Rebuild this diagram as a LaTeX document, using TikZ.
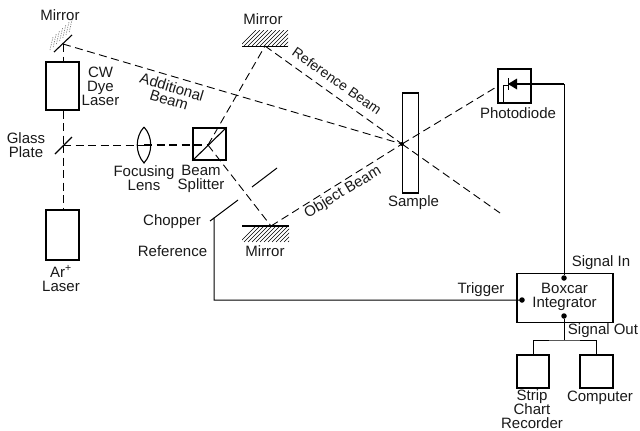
\documentclass[tikz,border=0pt]{standalone}
\usepackage{fontspec}
\setmainfont{Liberation Sans}
\begin{document}
\begin{tikzpicture}[x=1pt,y=-1pt,line cap=butt,
  lbl/.style={inner sep=0pt,align=center,font=\fontsize{15}{14}\selectfont,text=black!90},
  rlbl/.style={lbl,font=\fontsize{14}{14}\selectfont},
  laserbox/.style={draw,line width=1.1pt,inner sep=0pt},
  beam/.style={line width=0.9pt,dash pattern=on 8pt off 4.5pt},
  wire/.style={line width=1pt},
  optic/.style={line width=1.1pt},
  hatchl/.style={line width=0.45pt},
  faint/.style={line width=0.7pt,gray,dash pattern=on 1.2pt off 1.2pt},
  dotn/.style={circle,fill=black,inner sep=0pt,minimum size=5.5pt}]
\useasboundingbox (0,0) rectangle (640,431);
% boxes
\node[laserbox,minimum width=33pt,minimum height=48pt] (dye) at (62.5,86) {};
\node[laserbox,minimum width=33pt,minimum height=50pt] (ar) at (62.5,235) {};
\node[laserbox,line width=1.3pt,minimum width=33pt,minimum height=32pt] (bs) at (209.5,144) {};
\node[laserbox,minimum width=16pt,minimum height=100pt] (sample) at (410.5,143) {};
\node[laserbox,minimum width=33pt,minimum height=34pt] (pd) at (514.5,86) {};
\node[laserbox,line width=1.3pt,minimum width=96pt,minimum height=49pt] (boxcar) at (565,298) {};
\node[laserbox,minimum width=32pt,minimum height=33pt] (strip) at (533,371.5) {};
\node[laserbox,minimum width=33pt,minimum height=33pt] (comp) at (596.5,371.5) {};
% optical points
\coordinate (m1) at (63,44);
\coordinate (gp) at (63,145);
\coordinate (bsc) at (208,145);
\coordinate (m2) at (265,46);
\coordinate (m3) at (271,226);
\coordinate (xp) at (402,144);
\coordinate (pdin) at (498,86);
\coordinate (refend) at (500,213);
% mirror 1 hatching and surface
\foreach \i in {0,...,6}{
  \draw[faint] (50+3.2*\i,50-3.0*\i) -- ++(3,-13);
}
\draw[optic] (54,52) -- (72,35);
% mirror 2
\begin{scope}
\clip (242,30) rectangle (288,46);
\foreach \i in {0,...,15}{\draw[hatchl] (240+4*\i,46) -- ++(16,-16);}
\end{scope}
\draw[line width=1.4pt] (242,46.5) -- (288,46.5);
% mirror 3
\begin{scope}
\clip (242,226) rectangle (289,242);
\foreach \i in {0,...,15}{\draw[hatchl] (240+4*\i,242) -- ++(16,-16);}
\end{scope}
\draw[line width=1.4pt] (242,226) -- (289,226);
% glass plate
\draw[optic] (55,154) -- (72,137);
% beam splitter diagonal
\draw[optic] (bs.south west) -- (bs.north east);
% lens
\node[inner sep=0pt,minimum size=0pt] (lens) at (144,145) {};
\draw[optic] (144,127) .. controls (135,137) and (135,153) .. (144,163)
  .. controls (153,153) and (153,137) .. (144,127);
% beams
\draw[beam] (m1) -- (dye.north -| m1);
\draw[beam] (dye.south -| gp) -- (gp);
\draw[beam] (gp) -- (ar.north -| gp);
\draw[beam] (gp) -- (lens);
\draw[beam,line width=1.3pt] (lens) -- (bsc);
\draw[beam] (m1) -- (xp);
\draw[beam] (bsc) -- (m2);
\draw[beam] (bsc) -- (m3);
\draw[beam] (m2) -- (xp);
\draw[beam] (xp) -- (refend);
\draw[beam] (m3) -- (xp);
\draw[beam] (xp) -- (pdin);
\fill (xp) circle (2pt);
% chopper
\coordinate (chopa) at (277,168);
\coordinate (chopb) at (252,187);
\coordinate (chopc) at (238,200);
\coordinate (chopd) at (214,218);
\coordinate (refcorner) at (214,300);
\draw[line width=1pt] (chopa) -- (chopb);
\draw[line width=1pt] (chopc) -- (chopd);
\draw[wire] (210,221) -- (chopd) -- (refcorner) -- (522,300);
% photodiode
\coordinate (dtip) at (508,84);
\coordinate (dtop) at (517,78.5);
\coordinate (dbot) at (517,89.5);
\fill (dtip) -- (dtop) -- (dbot) -- cycle;
\draw[wire] (508,78) -- (508,90);
\draw[wire] (503,103) -- (503,85) -- (508,85);
\coordinate (sigcorner) at (564,84);
% electronics
\node[dotn] (sigin) at (564,278) {};
\node[dotn] (trig) at (522,300) {};
\node[dotn] (sigout) at (564,316) {};
\draw[wire,line width=1.3pt] (517,84) -- (sigcorner);
\draw[wire] (sigcorner) -- (sigin);
\draw[wire] (sigout) -- (564,340);
\draw[wire] (strip.north) |- (564,340) -| (comp.north);
% labels
\node[lbl] (t1) at (60,15.5) {Mirror};
\node[lbl] (t2) at (263,19.5) {Mirror};
\node[lbl] (t3) at (100.5,86) {CW\\Dye\\Laser};
\node[lbl] (t4) at (26,145) {Glass\\Plate};
\node[lbl] (t5) at (144,178.5) {Focusing\\Lens};
\node[lbl] (t6) at (201,178.5) {Beam\\Splitter};
\node[lbl] (t7) at (172,221.5) {Chopper};
\node[lbl] (t8) at (172.5,251) {Reference};
\node[lbl] (t9) at (265,251) {Mirror};
\node[lbl] (t10) at (61,278.5) {Ar\textsuperscript{+}\\Laser};
\node[lbl,rotate=-17] (t11) at (172,87) {Additional};
\node[lbl,rotate=-17] (t12) at (169,100) {Beam};
\node[rlbl,rotate=-35] (t13) at (337,81) {Reference Beam};
\node[lbl,rotate=31] (t14) at (343,192.5) {Object Beam};
\node[lbl] (t15) at (413.5,203) {Sample};
\node[lbl] (t16) at (518,113) {Photodiode};
\node[lbl] (t17) at (601,263) {Signal In};
\node[lbl] (t18) at (481,290) {Trigger};
\node[lbl] (t19) at (564.5,296.5) {Boxcar\\Integrator};
\node[lbl] (t20) at (603,331) {Signal Out};
\node[lbl] (t21) at (532,409) {Strip\\Chart\\Recorder};
\node[lbl] (t22) at (600,398) {Computer};
\end{tikzpicture}
\end{document}
